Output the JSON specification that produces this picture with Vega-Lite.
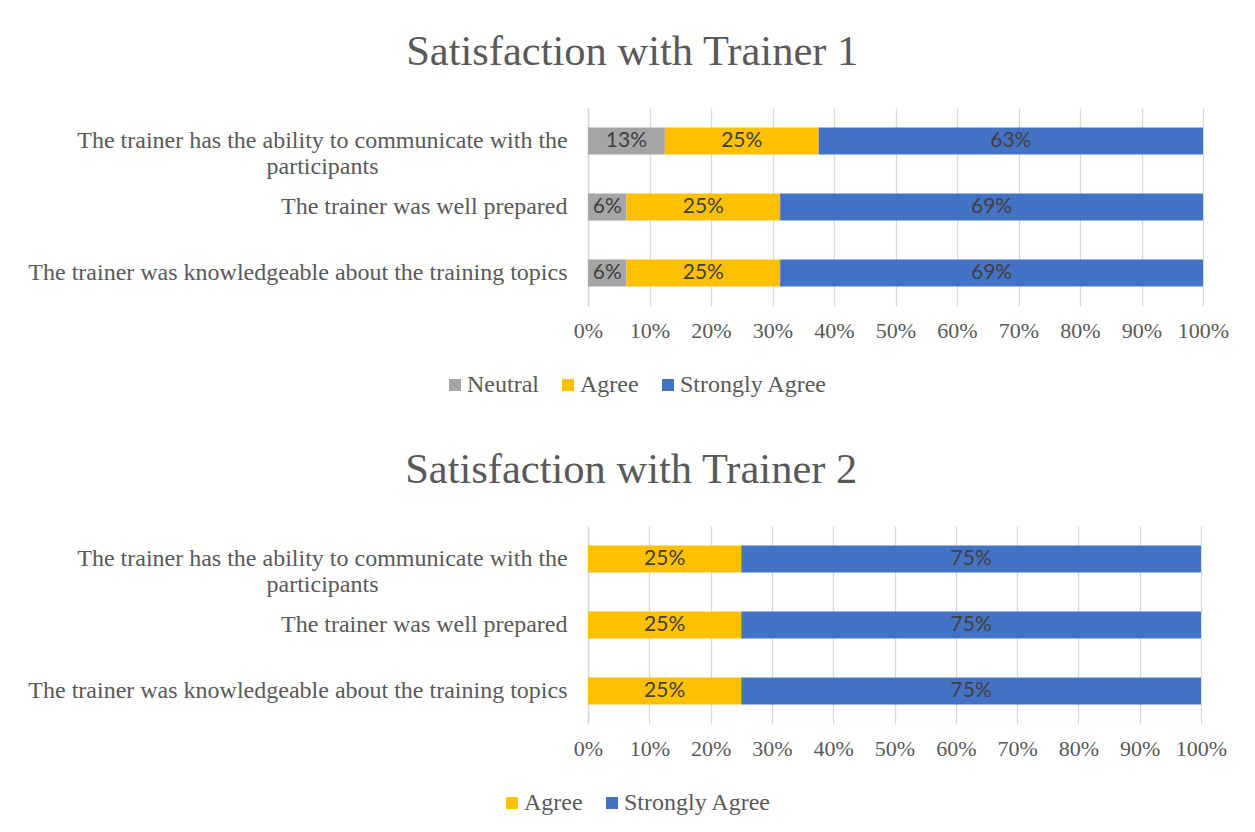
{
  "$schema": "https://vega.github.io/schema/vega-lite/v6.json",
  "background": "white",
  "padding": {"left": 27, "top": 30, "right": 5, "bottom": 5},
  "spacing": 51,
  "datasets": {
    "t1": [
      {"item": "The trainer has the ability to communicate with the participants", "response": "Neutral", "order": 1, "value": 0.125},
      {"item": "The trainer has the ability to communicate with the participants", "response": "Agree", "order": 2, "value": 0.25},
      {"item": "The trainer has the ability to communicate with the participants", "response": "Strongly Agree", "order": 3, "value": 0.625},
      {"item": "The trainer was well prepared", "response": "Neutral", "order": 1, "value": 0.0625},
      {"item": "The trainer was well prepared", "response": "Agree", "order": 2, "value": 0.25},
      {"item": "The trainer was well prepared", "response": "Strongly Agree", "order": 3, "value": 0.6875},
      {"item": "The trainer was knowledgeable about the training topics", "response": "Neutral", "order": 1, "value": 0.0625},
      {"item": "The trainer was knowledgeable about the training topics", "response": "Agree", "order": 2, "value": 0.25},
      {"item": "The trainer was knowledgeable about the training topics", "response": "Strongly Agree", "order": 3, "value": 0.6875}
    ],
    "t2": [
      {"item": "The trainer has the ability to communicate with the participants", "response": "Agree", "order": 2, "value": 0.25},
      {"item": "The trainer has the ability to communicate with the participants", "response": "Strongly Agree", "order": 3, "value": 0.75},
      {"item": "The trainer was well prepared", "response": "Agree", "order": 2, "value": 0.25},
      {"item": "The trainer was well prepared", "response": "Strongly Agree", "order": 3, "value": 0.75},
      {"item": "The trainer was knowledgeable about the training topics", "response": "Agree", "order": 2, "value": 0.25},
      {"item": "The trainer was knowledgeable about the training topics", "response": "Strongly Agree", "order": 3, "value": 0.75}
    ]
  },
  "config": {
    "view": {"stroke": null},
    "font": "Liberation Serif",
    "title": {"font": "Liberation Serif", "fontSize": 42.5, "fontWeight": "normal", "color": "#595959", "frame": "bounds", "anchor": "middle", "offset": 35, "dx": 4},
    "axisX": {
      "labelOverlap": false, "labelFlush": false,
      "domain": false, "ticks": false, "grid": true, "gridColor": "#D9D9D9", "gridWidth": 1.3,
      "labelFont": "Liberation Serif", "labelFontSize": 22, "labelColor": "#595959", "labelPadding": 14, "title": null
    },
    "axisY": {
      "domain": true, "domainColor": "#D9D9D9", "domainWidth": 1.5, "ticks": false, "grid": false, "title": null,
      "labelFont": "Liberation Serif", "labelFontSize": 24, "labelColor": "#595959", "labelLimit": 800, "labelLineHeight": 26,
      "labelExpr": "indexof(datum.value, 'ability') >= 0 ? ['The trainer has the ability to communicate with the', 'participants'] : datum.value",
      "labelAlign": {"condition": {"test": "indexof(datum.value, 'ability') >= 0", "value": "center"}, "value": "right"},
      "labelPadding": {"condition": {"test": "indexof(datum.value, 'ability') >= 0", "value": 266}, "value": 21}
    },
    "legend": {
      "orient": "none", "direction": "horizontal", "title": null, "symbolType": "square", "symbolSize": 144, "symbolStrokeWidth": 0,
      "labelFont": "Liberation Serif", "labelFontSize": 24, "labelColor": "#595959", "columnPadding": 17, "labelOffset": 0
    }
  },
  "vconcat": [
    {
      "title": "Satisfaction with Trainer 1",
      "width": 615, "height": 198,
      "data": {"name": "t1"},
      "transform": [
        {"stack": "value", "groupby": ["item"], "sort": [{"field": "order"}], "as": ["v0", "v1"]},
        {"calculate": "(datum.v0 + datum.v1) / 2", "as": "mid"}
      ],
      "encoding": {
        "y": {"field": "item", "type": "nominal", "sort": ["The trainer has the ability to communicate with the participants", "The trainer was well prepared", "The trainer was knowledgeable about the training topics"], "scale": {"paddingInner": 0.59, "paddingOuter": 0.295}}
      },
      "layer": [
        {
          "mark": {"type": "bar"},
          "encoding": {
            "x": {"field": "v0", "type": "quantitative", "scale": {"domain": [0, 1], "nice": false}, "axis": {"format": ".0%", "values": [0, 0.1, 0.2, 0.3, 0.4, 0.5, 0.6, 0.7, 0.8, 0.9, 1]}},
            "x2": {"field": "v1"},
            "color": {"field": "response", "type": "nominal", "scale": {"domain": ["Neutral", "Agree", "Strongly Agree"], "range": ["#A5A5A5", "#FFC000", "#4472C4"]}, "legend": {"legendX": -145, "legendY": 265}}
          }
        },
        {
          "mark": {"type": "text", "font": "Lato", "fontSize": 21, "color": "#404040", "baseline": "middle", "align": "center"},
          "encoding": {
            "x": {"field": "mid", "type": "quantitative"},
            "text": {"field": "value", "type": "quantitative", "format": ".0%"}
          }
        }
      ]
    },
    {
      "title": "Satisfaction with Trainer 2",
      "width": 613, "height": 198,
      "data": {"name": "t2"},
      "transform": [
        {"stack": "value", "groupby": ["item"], "sort": [{"field": "order"}], "as": ["v0", "v1"]},
        {"calculate": "(datum.v0 + datum.v1) / 2", "as": "mid"}
      ],
      "encoding": {
        "y": {"field": "item", "type": "nominal", "sort": ["The trainer has the ability to communicate with the participants", "The trainer was well prepared", "The trainer was knowledgeable about the training topics"], "scale": {"paddingInner": 0.59, "paddingOuter": 0.295}}
      },
      "layer": [
        {
          "mark": {"type": "bar"},
          "encoding": {
            "x": {"field": "v0", "type": "quantitative", "scale": {"domain": [0, 1], "nice": false}, "axis": {"format": ".0%", "values": [0, 0.1, 0.2, 0.3, 0.4, 0.5, 0.6, 0.7, 0.8, 0.9, 1]}},
            "x2": {"field": "v1"},
            "color": {"field": "response", "type": "nominal", "scale": {"domain": ["Agree", "Strongly Agree"], "range": ["#FFC000", "#4472C4"]}, "legend": {"legendX": -88, "legendY": 265}}
          }
        },
        {
          "mark": {"type": "text", "font": "Lato", "fontSize": 21, "color": "#404040", "baseline": "middle", "align": "center"},
          "encoding": {
            "x": {"field": "mid", "type": "quantitative"},
            "text": {"field": "value", "type": "quantitative", "format": ".0%"}
          }
        }
      ]
    }
  ],
  "resolve": {"scale": {"color": "independent"}}
}
